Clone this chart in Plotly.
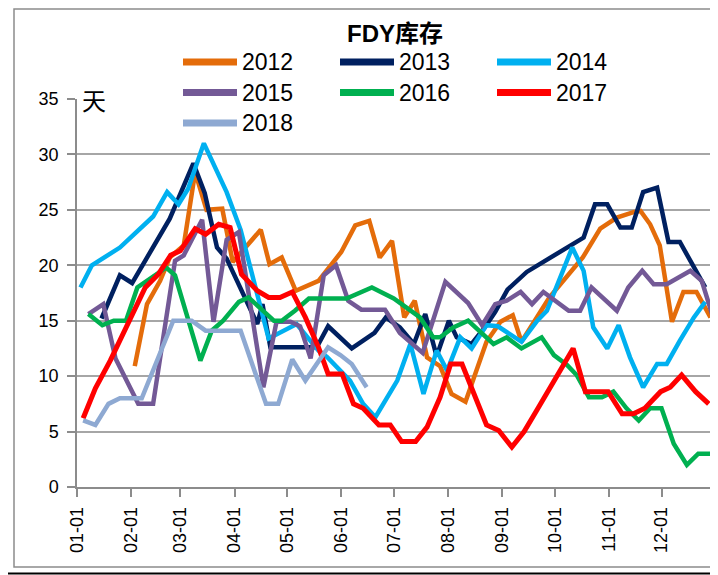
import plotly.graph_objects as go

# ---------------- data ----------------
tick_days = [0, 31, 59, 90, 120, 151, 181, 212, 243, 273, 304, 334, 364]
tick_labels = ["01-01", "02-01", "03-01", "04-01", "05-01", "06-01", "07-01",
               "08-01", "09-01", "10-01", "11-01", "12-01", ""]

years = ["2012", "2013", "2014", "2015", "2016", "2017", "2018"]
colors = ["#E46C0A", "#002060", "#00B0F0", "#735996", "#00B050", "#FF0000", "#8EA9D2"]

d2012 = [33, 40, 47.5, 53, 61, 64, 67.5, 74, 83, 89, 105, 110, 117, 125, 138, 151, 159, 167, 173,
         180, 187, 193, 200, 207.5, 214, 222, 234, 242, 249, 254, 263, 270, 289, 299, 308.5, 318,
         322, 327.5, 333, 340, 346.5, 354, 362]
v2012 = [10.9, 16.5, 18.6, 20.7, 21.8, 24.6, 28.4, 25.0, 25.1, 20.3, 23.2, 20.1, 20.7, 17.7, 18.6,
         21.2, 23.6, 24.0, 20.7, 22.2, 15.3, 16.8, 11.7, 10.9, 8.4, 7.7, 13.1, 14.9, 15.5, 13.1, 15.3,
         17.1, 20.7, 23.3, 24.3, 24.8, 24.9, 23.7, 21.8, 14.9, 17.6, 17.6, 15.3]

d2013 = [14, 24.5, 31.5, 53, 66.5, 73, 80, 85.5, 103, 106, 110.5, 137, 143.5, 157, 170, 176.5,
         184.5, 192.5, 199, 205.5, 212.5, 217, 225.5, 233, 239, 246, 257, 266.5, 276, 289.5, 296,
         303, 310.5, 317, 323.5, 331.5, 338, 344.5, 359]
v2013 = [15.2, 19.1, 18.4, 24.2, 29.2, 26.5, 21.6, 20.6, 14.7, 16.5, 12.6, 12.6, 14.5, 12.5, 13.9,
         15.3, 14.4, 12.9, 15.6, 11.8, 15.0, 13.5, 12.9, 14.4, 15.8, 17.8, 19.4, 20.3, 21.2, 22.5,
         25.5, 25.5, 23.4, 23.4, 26.6, 27.0, 22.1, 22.1, 18.0]

d2014 = [2, 8.5, 24.5, 43.5, 51.5, 58, 63.5, 72.5, 85.5, 93.5, 109.5, 125.5, 138, 143, 156, 163.5,
         170.5, 183, 190.5, 198, 205.5, 211.5, 219, 225.5, 234, 240.5, 254, 263, 268.5, 274, 283,
         289.5, 295, 303, 309.5, 316, 323.5, 331.5, 337, 344.5, 352.5, 359]
v2014 = [18.0, 20.0, 21.6, 24.4, 26.6, 25.5, 26.9, 31.0, 26.6, 23.2, 13.4, 14.7, 12.3, 11.7, 9.6,
         7.5, 6.3, 9.6, 12.9, 8.4, 12.3, 10.5, 13.5, 12.5, 14.6, 14.5, 13.1, 15.0, 15.9, 18.0, 21.6,
         19.5, 14.4, 12.5, 14.6, 11.7, 9.0, 11.1, 11.1, 13.2, 15.3, 16.7]

d2015 = [6.5, 15, 22, 35, 43.5, 56, 61, 71.5, 78, 85.5, 92.5, 106.5, 114, 122, 127.5, 133.5, 141,
         148, 155, 162.5, 176, 184.5, 197.5, 210.5, 223.5, 231.5, 239, 245.5, 253.5, 260, 266.5,
         281, 287.5, 294, 308.5, 315, 323, 329.5, 337, 350.5, 357, 363.5]
v2015 = [15.6, 16.5, 11.6, 7.5, 7.5, 20.4, 20.9, 24.1, 14.9, 22.3, 23.0, 9.0, 14.9, 14.9, 14.5, 11.6,
         19.1, 20.0, 16.8, 16.0, 16.0, 13.9, 12.1, 18.5, 16.6, 14.6, 16.5, 16.8, 17.6, 16.5, 17.6,
         15.9, 15.9, 18.0, 15.9, 18.0, 19.5, 18.3, 18.3, 19.5, 18.6, 15.3]

d2016 = [6.5, 14.5, 21, 28, 34.5, 51, 56, 70.5, 77, 83.5, 92.5, 98, 112.5, 117, 124.5, 132.5, 154,
         168.5, 181, 188.5, 196, 203.5, 207.5, 215, 223.5, 238, 245.5, 254, 265.5, 272.5, 280,
         285.5, 292.5, 300, 306.5, 314, 321, 327.5, 334, 341, 348.5, 355, 363.5]
v2016 = [15.6, 14.6, 15.0, 15.0, 18.0, 19.8, 19.1, 11.4, 14.1, 15.0, 16.7, 17.1, 15.0, 15.0, 15.9,
         17.0, 17.0, 18.0, 17.0, 16.1, 15.3, 13.5, 13.5, 14.4, 15.0, 12.9, 13.5, 12.5, 13.5, 11.9,
         11.0, 10.1, 8.1, 8.1, 8.6, 7.1, 6.0, 7.1, 7.1, 3.9, 2.0, 3.0, 3.0]

d2017 = [3.5, 10.5, 19, 28.5, 39, 46.5, 53.5, 59, 67.5, 73.5, 81, 87.5, 94, 103, 109.5, 116, 123,
         130.5, 138, 143.5, 151.5, 158, 163.5, 172.5, 179, 185.5, 193.5, 200, 207.5, 213.5, 220,
         234, 241, 248.5, 255.5, 263, 269.5, 276, 283.5, 290.5, 303.5, 311.5, 318, 324.5, 333.5,
         339, 345.5, 353.5, 361]
v2017 = [6.2, 8.9, 11.4, 14.6, 18.0, 19.2, 20.9, 21.3, 23.3, 22.8, 23.7, 23.4, 19.2, 17.7, 17.1,
         17.1, 17.6, 15.3, 12.6, 10.2, 10.2, 7.5, 7.1, 5.6, 5.6, 4.1, 4.1, 5.4, 8.1, 11.1, 11.1, 5.6,
         5.1, 3.6, 5.0, 7.0, 8.7, 10.5, 12.5, 8.6, 8.6, 6.6, 6.6, 7.1, 8.6, 9.0, 10.1, 8.6, 7.5]

d2018 = [3.5, 10.5, 18, 24.5, 37, 55, 65.5, 73.5, 93.5, 108, 115, 123, 130.5, 143.5, 150.5, 157,
         165.5]
v2018 = [6.0, 5.6, 7.5, 8.0, 8.0, 15.0, 15.0, 14.1, 14.1, 7.5, 7.5, 11.5, 9.6, 12.6, 11.9, 11.1, 9.0]

days = [d2012, d2013, d2014, d2015, d2016, d2017, d2018]
vals = [v2012, v2013, v2014, v2015, v2016, v2017, v2018]

y_ticks = [0, 5, 10, 15, 20, 25, 30, 35]
title_text = "FDY库存"
unit_text = "天"

# ---------------- layout helpers ----------------
OFF = 8                      # page body margin in which the figure sits
W, H = 718 - OFF, 575 - OFF
L, R, T, B = 77 - OFF, 4, 99 - OFF, 88
PW, PH = W - L - R, H - T - B


def px_x(px):                # page pixel -> paper x
    return (px - OFF - L) / PW


def px_y(py):                # page pixel -> paper y
    return (H - B - (py - OFF)) / PH


FONT = "Liberation Sans, Arial, Noto Sans CJK SC, sans-serif"

fig = go.Figure()
for name, col, d, v in zip(years, colors, days, vals):
    fig.add_trace(go.Scatter(
        x=d, y=v, mode="lines", name=name,
        line=dict(color=col, width=5 if name == "2017" else 4.5),
        hoverinfo="skip", showlegend=False,
    ))

shapes = []
annotations = []

# manual legend, 3 columns
for i, (name, col) in enumerate(zip(years, colors)):
    row, c = divmod(i, 3)
    x0 = 183 + c * 157
    y0 = 62 + row * 30.5
    shapes.append(dict(type="line", xref="paper", yref="paper",
                       x0=px_x(x0), x1=px_x(x0 + 54), y0=px_y(y0), y1=px_y(y0),
                       line=dict(color=col, width=7)))
    annotations.append(dict(xref="paper", yref="paper", x=px_x(x0 + 57), y=px_y(y0),
                            text=name, showarrow=False, xanchor="left", yanchor="middle",
                            font=dict(size=23, color="#000", family=FONT)))

# title
annotations.append(dict(xref="paper", yref="paper", x=px_x(395), y=px_y(34),
                        text="<b>" + title_text + "</b>", showarrow=False,
                        xanchor="center", yanchor="middle",
                        font=dict(size=24, color="#000", family="Liberation Sans, Noto Sans CJK SC")))
# unit label
annotations.append(dict(xref="paper", yref="paper", x=px_x(94), y=px_y(99),
                        text=unit_text, showarrow=False, xanchor="center", yanchor="middle",
                        font=dict(size=24, color="#000", family="Noto Sans CJK SC")))

# chart frame
shapes.append(dict(type="rect", xref="paper", yref="paper",
                   x0=px_x(14), x1=px_x(716), y0=px_y(567), y1=px_y(9),
                   line=dict(color="#8C8C8C", width=1.5), layer="below"))
shapes.append(dict(type="line", xref="paper", yref="paper",
                   x0=px_x(8), x1=px_x(718), y0=px_y(573.5), y1=px_y(573.5),
                   line=dict(color="#000", width=2)))

fig.update_layout(
    width=W, height=H,
    margin=dict(l=L, r=R, t=T, b=B, autoexpand=False),
    paper_bgcolor="white", plot_bgcolor="white",
    showlegend=False,
    shapes=shapes, annotations=annotations,
    xaxis=dict(range=[0, 364], tickvals=tick_days, ticktext=tick_labels,
               tickangle=-90, ticks="outside", ticklen=8, tickwidth=1.5, tickcolor="#8C8C8C",
               showline=True, linecolor="#8C8C8C", linewidth=1.5, showgrid=False,
               zeroline=False, tickfont=dict(size=18, family=FONT, color="#000"),
               ticklabelstandoff=3),
    yaxis=dict(range=[0, 35], tickvals=y_ticks, ticks="outside", ticklen=8, tickwidth=1.5,
               tickcolor="#8C8C8C", showline=True, linecolor="#8C8C8C", linewidth=1.5,
               showgrid=True, gridcolor="#A6A6A6", gridwidth=2, zeroline=False,
               tickfont=dict(size=18, family=FONT, color="#000"),
               ticklabelstandoff=5),
)

fig.write_html("out.html")
